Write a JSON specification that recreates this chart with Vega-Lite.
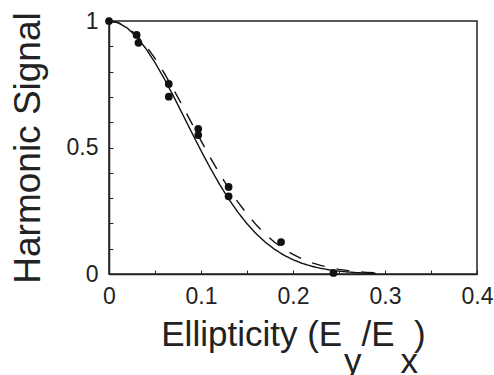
{
  "$schema": "https://vega.github.io/schema/vega-lite/v6.json",
  "width": 368,
  "height": 253,
  "autosize": {"type": "none"},
  "padding": {"left": 109, "top": 21, "right": 17, "bottom": 101},
  "background": "white",
  "config": {
    "font": "Liberation Sans",
    "view": {"stroke": "#222", "strokeWidth": 1.5},
    "axis": {
      "grid": false,
      "domainColor": "#222",
      "domainWidth": 1.5,
      "tickColor": "#222",
      "tickWidth": 1,
      "tickSize": -4,
      "labelColor": "#222",
      "titleColor": "#222",
      "labelFont": "Liberation Sans",
      "titleFont": "Liberation Sans",
      "labelFontSize": 23,
      "titleFontSize": 35,
      "titleFontWeight": "normal",
      "labelOverlap": false,
      "labelFlush": false
    }
  },
  "datasets": {
    "points": [
      {"x": 0, "y": 1},
      {"x": 0.030, "y": 0.945},
      {"x": 0.032, "y": 0.914},
      {"x": 0.065, "y": 0.751},
      {"x": 0.065, "y": 0.701},
      {"x": 0.097, "y": 0.574},
      {"x": 0.097, "y": 0.549},
      {"x": 0.130, "y": 0.344},
      {"x": 0.130, "y": 0.307},
      {"x": 0.187, "y": 0.126},
      {"x": 0.244, "y": 0.004}
    ],
    "curves": [
      {"model": "solid", "x": 0, "y": 1},
      {"model": "solid", "x": 0.01, "y": 0.9928},
      {"model": "solid", "x": 0.02, "y": 0.9717},
      {"model": "solid", "x": 0.03, "y": 0.9374},
      {"model": "solid", "x": 0.04, "y": 0.8914},
      {"model": "solid", "x": 0.05, "y": 0.8356},
      {"model": "solid", "x": 0.06, "y": 0.7722},
      {"model": "solid", "x": 0.07, "y": 0.7034},
      {"model": "solid", "x": 0.08, "y": 0.6315},
      {"model": "solid", "x": 0.09, "y": 0.5589},
      {"model": "solid", "x": 0.10, "y": 0.4876},
      {"model": "solid", "x": 0.11, "y": 0.4194},
      {"model": "solid", "x": 0.12, "y": 0.3555},
      {"model": "solid", "x": 0.13, "y": 0.2971},
      {"model": "solid", "x": 0.14, "y": 0.2447},
      {"model": "solid", "x": 0.15, "y": 0.1987},
      {"model": "solid", "x": 0.16, "y": 0.1590},
      {"model": "solid", "x": 0.17, "y": 0.1255},
      {"model": "solid", "x": 0.18, "y": 0.0976},
      {"model": "solid", "x": 0.19, "y": 0.0748},
      {"model": "solid", "x": 0.20, "y": 0.0565},
      {"model": "solid", "x": 0.21, "y": 0.0421},
      {"model": "solid", "x": 0.22, "y": 0.0309},
      {"model": "solid", "x": 0.23, "y": 0.0224},
      {"model": "solid", "x": 0.24, "y": 0.0160},
      {"model": "solid", "x": 0.25, "y": 0.0112},
      {"model": "solid", "x": 0.26, "y": 0.0078},
      {"model": "solid", "x": 0.27, "y": 0.0053},
      {"model": "solid", "x": 0.28, "y": 0.0036},
      {"model": "solid", "x": 0.29, "y": 0.0024},
      {"model": "dashed", "x": 0, "y": 1},
      {"model": "dashed", "x": 0.01, "y": 0.9936},
      {"model": "dashed", "x": 0.02, "y": 0.9747},
      {"model": "dashed", "x": 0.03, "y": 0.9440},
      {"model": "dashed", "x": 0.04, "y": 0.9027},
      {"model": "dashed", "x": 0.05, "y": 0.8521},
      {"model": "dashed", "x": 0.06, "y": 0.7942},
      {"model": "dashed", "x": 0.07, "y": 0.7308},
      {"model": "dashed", "x": 0.08, "y": 0.6639},
      {"model": "dashed", "x": 0.09, "y": 0.5955},
      {"model": "dashed", "x": 0.10, "y": 0.5273},
      {"model": "dashed", "x": 0.11, "y": 0.4610},
      {"model": "dashed", "x": 0.12, "y": 0.3979},
      {"model": "dashed", "x": 0.13, "y": 0.3391},
      {"model": "dashed", "x": 0.14, "y": 0.2852},
      {"model": "dashed", "x": 0.15, "y": 0.2369},
      {"model": "dashed", "x": 0.16, "y": 0.1943},
      {"model": "dashed", "x": 0.17, "y": 0.1573},
      {"model": "dashed", "x": 0.18, "y": 0.1257},
      {"model": "dashed", "x": 0.19, "y": 0.0992},
      {"model": "dashed", "x": 0.20, "y": 0.0773},
      {"model": "dashed", "x": 0.21, "y": 0.0595},
      {"model": "dashed", "x": 0.22, "y": 0.0452},
      {"model": "dashed", "x": 0.23, "y": 0.0339},
      {"model": "dashed", "x": 0.24, "y": 0.0251},
      {"model": "dashed", "x": 0.25, "y": 0.0183},
      {"model": "dashed", "x": 0.26, "y": 0.0132},
      {"model": "dashed", "x": 0.27, "y": 0.0094},
      {"model": "dashed", "x": 0.28, "y": 0.0066},
      {"model": "dashed", "x": 0.29, "y": 0.0046}
    ]
  },
  "resolve": {"axis": {"y": "independent"}},
  "layer": [
    {
      "data": {"name": "curves"},
      "mark": {"type": "line", "color": "#111", "strokeWidth": 1.4},
      "encoding": {
        "x": {
          "field": "x",
          "type": "quantitative",
          "scale": {"domain": [0, 0.4], "nice": false},
          "axis": {
            "values": [0, 0.025, 0.05, 0.075, 0.1, 0.125, 0.15, 0.175, 0.2, 0.225, 0.25, 0.275, 0.3, 0.325, 0.35, 0.375, 0.4],
            "labelExpr": "indexof(['0','0.1','0.2','0.3','0.4'], format(datum.value, '~g')) >= 0 ? format(datum.value, '~g') : ''",
            "labelOverlap": false,
            "labelFlush": false,
            "labelPadding": 15,
            "titlePadding": 9,
            "titleLineHeight": 27,
            "title": [
              "Ellipticity (E\u00a0\u00a0/E\u00a0\u00a0)",
              "\u200b\u00a0\u00a0\u00a0\u00a0\u00a0\u00a0\u00a0\u00a0\u00a0\u00a0\u00a0\u00a0\u00a0\u00a0\u00a0\u00a0\u00a0\u00a0y\u00a0\u00a0\u00a0\u00a0x"
            ]
          }
        },
        "y": {
          "field": "y",
          "type": "quantitative",
          "scale": {"domain": [0, 1], "nice": false},
          "axis": {
            "orient": "left",
            "values": [0, 0.5, 1],
            "labelExpr": "format(datum.value, '~g')",
            "labelOverlap": false,
            "labelFlush": false,
            "labelPadding": 15,
            "titlePadding": 19,
            "titleFontSize": 37,
            "title": "Harmonic Signal"
          }
        },
        "detail": {"field": "model"},
        "strokeDash": {
          "field": "model",
          "type": "nominal",
          "scale": {"domain": ["solid", "dashed"], "range": [[1, 0], [13, 12]]},
          "legend": null
        }
      }
    },
    {
      "data": {"name": "points"},
      "mark": {"type": "circle", "color": "#111", "size": 60, "opacity": 1},
      "encoding": {
        "x": {"field": "x", "type": "quantitative"},
        "y": {
          "field": "y",
          "type": "quantitative",
          "axis": {
            "orient": "left",
            "values": [0.1, 0.2, 0.3, 0.4, 0.6, 0.7, 0.8, 0.9],
            "labels": false,
            "domain": false,
            "title": null
          }
        }
      }
    }
  ]
}
